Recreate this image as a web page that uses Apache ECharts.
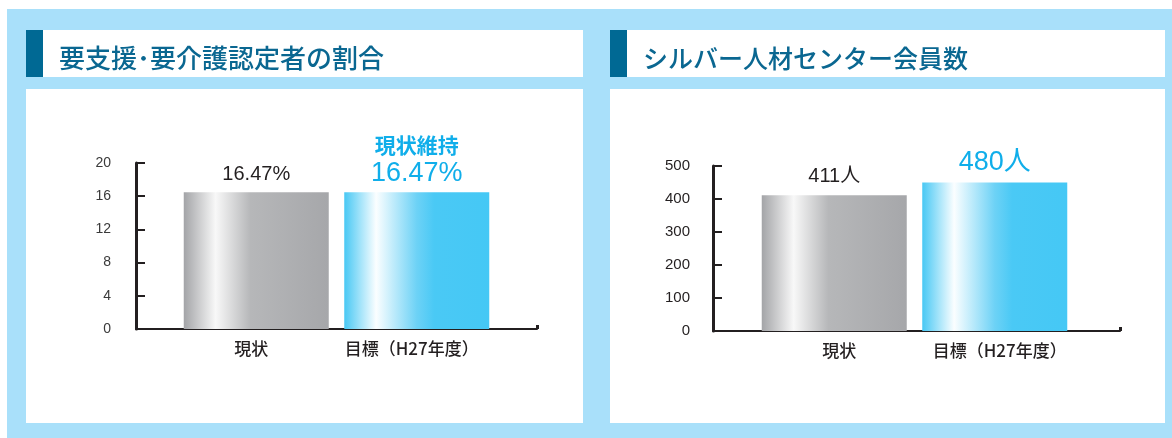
<!DOCTYPE html>
<html>
<head>
<meta charset="utf-8">
<script src="https://cdn.jsdelivr.net/npm/echarts@6/dist/echarts.min.js"></script>
<style>
  html, body { margin: 0; padding: 0; background: #ffffff; }
  #wrap { position: relative; width: 1172px; height: 438px; overflow: hidden; }
  .bg { position: absolute; left: 7px; top: 9px; width: 1165px; height: 429px; background: #a9e0fa; }
  .box { position: absolute; background: #ffffff; }
  .acc { position: absolute; background: #006994; }
  #chart { position: absolute; left: 0; top: 0; width: 1172px; height: 438px; }
</style>
</head>
<body>
<div id="wrap">
  <div class="bg"></div>
  <div class="box" style="left:26px;top:30px;width:557px;height:47px"></div>
  <div class="acc" style="left:26px;top:30px;width:17px;height:47px"></div>
  <div class="box" style="left:26px;top:89px;width:557px;height:334px"></div>
  <div class="box" style="left:610px;top:30px;width:555px;height:47px"></div>
  <div class="acc" style="left:610px;top:30px;width:17px;height:47px"></div>
  <div class="box" style="left:610px;top:89px;width:555px;height:334px"></div>
  <div id="chart"></div>
</div>
<script>
// ---- data ----
const categories = ['現状', '目標（H27年度）'];
const titleLeft = '要支援･要介護認定者の割合';
const titleRight = 'シルバー人材センター会員数';
const rateValues = [16.47, 16.47];
const rateLabels = ['16.47%', '16.47%'];
const rateNotes = ['', '現状維持'];
const rateAxis = { min: 0, max: 20, interval: 4 };
const memberValues = [411, 450];
const memberLabels = ['411人', '480人'];
const memberAxis = { min: 0, max: 500, interval: 100 };

// ---- styles ----
const ink = '#231f20';
const cyan = '#10aeea';
const numFont = '"Liberation Sans", Arial, "Noto Sans CJK JP", sans-serif';
const jpFont = '"Noto Sans CJK JP", "Liberation Sans", sans-serif';

function grayGrad() {
  return new echarts.graphic.LinearGradient(0, 0, 1, 0, [
    { offset: 0, color: '#a3a4a7' },
    { offset: 0.22, color: '#f8f8f8' },
    { offset: 0.46, color: '#b6b7b9' },
    { offset: 1, color: '#a6a7aa' }
  ]);
}
function blueGrad() {
  return new echarts.graphic.LinearGradient(0, 0, 1, 0, [
    { offset: 0, color: '#48c8f4' },
    { offset: 0.22, color: '#fbfeff' },
    { offset: 0.5, color: '#6dd2f6' },
    { offset: 0.62, color: '#4ac9f5' },
    { offset: 1, color: '#45c8f5' }
  ]);
}

const chart = echarts.init(document.getElementById('chart'), null, { renderer: 'canvas' });

function axesGrid(gi, fontSize, labelColor, margin) {
  return {
    x: {
      type: 'value', gridIndex: gi, min: 0, max: 1, interval: 1,
      axisLine: { show: true, lineStyle: { color: ink, width: 2 } },
      axisTick: { show: true, inside: true, length: 4, lineStyle: { color: ink, width: 3 } },
      axisLabel: { show: false }, splitLine: { show: false }
    },
    y: {
      type: 'value', gridIndex: gi,
      axisLine: { show: true, lineStyle: { color: ink, width: 3 } },
      axisTick: { show: true, inside: true, length: 9, lineStyle: { color: ink, width: 2 } },
      axisLabel: { show: true, fontSize: fontSize, color: labelColor, fontFamily: numFont, margin: margin },
      splitLine: { show: false }
    }
  };
}

const gA = axesGrid(0, 14, '#3a3a3a', 25);
Object.assign(gA.y, rateAxis);
const gC = axesGrid(2, 15, ink, 23);
Object.assign(gC.y, memberAxis);

function catAxis(gi, pad) {
  return {
    type: 'category', gridIndex: gi, data: categories,
    axisLine: { show: false }, axisTick: { show: false },
    axisLabel: { interval: 0, fontSize: 17, color: ink, fontFamily: jpFont, fontWeight: 500, margin: 11, padding: pad },
    splitLine: { show: false }
  };
}
function hiddenY(gi, ax) {
  return Object.assign({
    type: 'value', gridIndex: gi, show: false, splitLine: { show: false }
  }, ax);
}

const rateData = rateValues.map((v, i) => {
  const isTarget = i === 1;
  return {
    value: v,
    itemStyle: { color: isTarget ? blueGrad() : grayGrad() },
    label: isTarget ? {
      show: true, position: 'top', distance: 4,
      formatter: '{a|' + rateNotes[i] + '}\n{b|' + rateLabels[i] + '}',
      rich: {
        a: { fontSize: 21, fontWeight: 'bold', color: cyan, fontFamily: jpFont, lineHeight: 26, align: 'center' },
        b: { fontSize: 27, color: cyan, fontFamily: numFont, lineHeight: 30, align: 'center' }
      }
    } : {
      show: true, position: 'top', distance: 8,
      formatter: rateLabels[i], fontSize: 20, color: ink, fontFamily: numFont
    }
  };
});

const memberData = memberValues.map((v, i) => {
  const isTarget = i === 1;
  return {
    value: v,
    itemStyle: { color: isTarget ? blueGrad() : grayGrad() },
    label: {
      show: true, position: 'top', distance: isTarget ? 6 : 9,
      formatter: memberLabels[i],
      fontSize: isTarget ? 27 : 20,
      color: isTarget ? cyan : ink,
      fontFamily: numFont
    }
  };
});

chart.setOption({
  animation: false,
  title: [
    { text: titleLeft, left: 54, top: 37, textStyle: { fontSize: 26, fontWeight: 500, color: '#0a6791', fontFamily: jpFont, lineHeight: 32 } },
    { text: titleRight, left: 638, top: 37, textStyle: { fontSize: 25, fontWeight: 500, color: '#0a6791', fontFamily: jpFont, lineHeight: 32 } }
  ],
  grid: [
    { left: 136, top: 163, width: 401, height: 166 },
    { left: 176, top: 163, width: 321, height: 166 },
    { left: 713, top: 166, width: 407, height: 165 },
    { left: 754, top: 166, width: 321, height: 165 }
  ],
  xAxis: [gA.x, catAxis(1, [0, 10, 0, 0]), gC.x, catAxis(3, [0, 0, 0, 10])],
  yAxis: [gA.y, hiddenY(1, rateAxis), gC.y, hiddenY(3, memberAxis)],
  series: [
    { type: 'bar', xAxisIndex: 1, yAxisIndex: 1, barWidth: 145, data: rateData },
    { type: 'bar', xAxisIndex: 3, yAxisIndex: 3, barWidth: 145, data: memberData }
  ]
});
</script>
</body>
</html>
